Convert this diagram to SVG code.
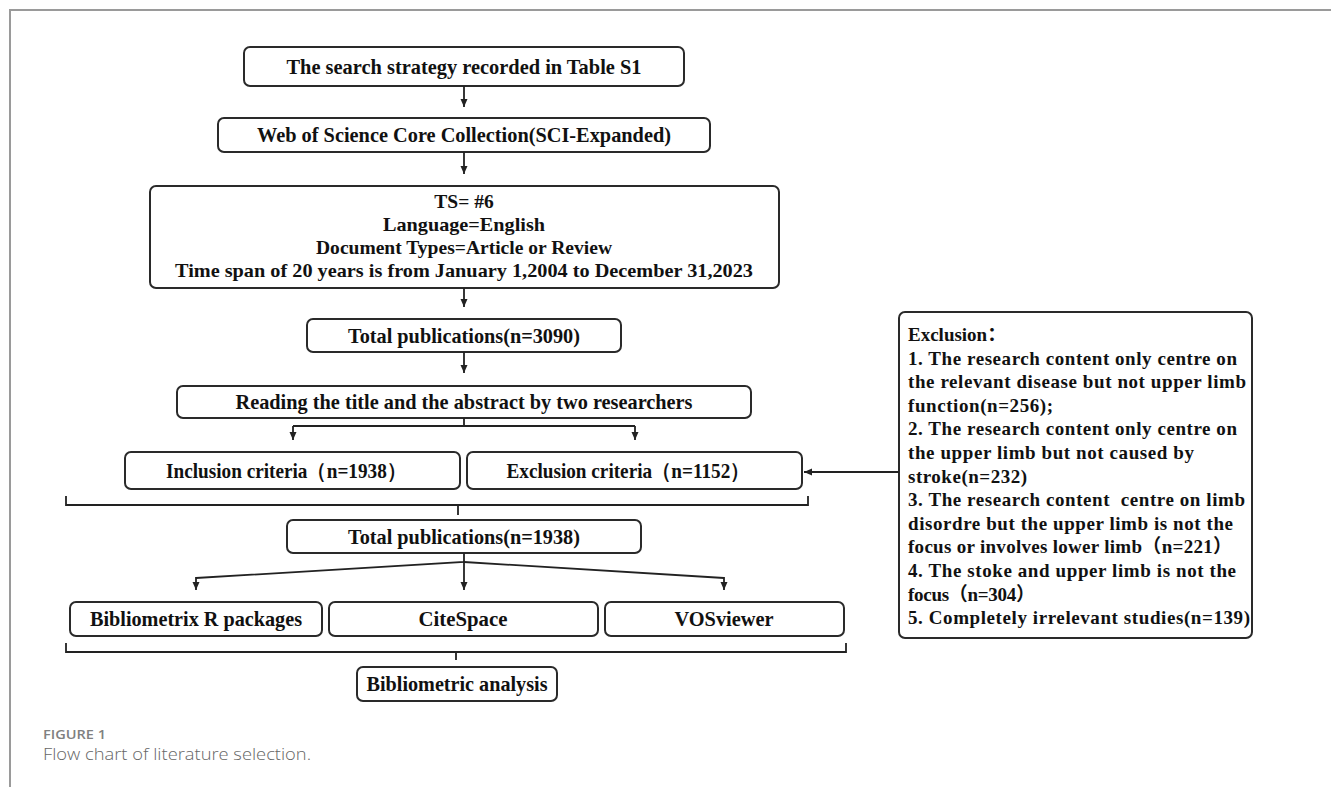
<svg xmlns="http://www.w3.org/2000/svg" width="1331" height="787" viewBox="0 0 1331 787">
<defs>
<style>
.box{fill:#fff;stroke:#2a2a2a;stroke-width:2}
.t{font-family:"Liberation Serif","Times New Roman",serif;font-weight:bold;font-size:21px;fill:#111;text-anchor:middle}
.t2{font-family:"Liberation Serif","Times New Roman",serif;font-weight:bold;font-size:19.5px;fill:#111;text-anchor:middle}
.ex{font-family:"Liberation Serif","Times New Roman","Noto Sans CJK SC",serif;font-weight:bold;font-size:19px;fill:#111}
.ln{fill:none;stroke:#222;stroke-width:1.8}
.frame{fill:none;stroke:#9a9a9a;stroke-width:2}
</style>
<marker id="ah" markerUnits="userSpaceOnUse" markerWidth="9" markerHeight="8" refX="8" refY="4" orient="auto">
<path d="M0,0.5 L8,4 L0,7.5 z" fill="#222"/>
</marker>
</defs>
<rect width="1331" height="787" fill="#fff"/>
<path class="frame" d="M10,787 V10 H1331"/>

<g id="n1"><rect class="box" x="244" y="47" width="440" height="39" rx="6"/><text class="t" x="464" y="74" textLength="355" lengthAdjust="spacingAndGlyphs">The search strategy recorded in Table S1</text></g>
<g id="n2"><rect class="box" x="218" y="118" width="492" height="34" rx="6"/><text class="t" x="464" y="142" textLength="414" lengthAdjust="spacingAndGlyphs">Web of Science Core Collection(SCI-Expanded)</text></g>
<g id="n3"><rect class="box" x="150" y="186" width="629" height="102" rx="6"/>
<text class="t2" x="464" y="208">TS= #6</text>
<text class="t2" x="464" y="231" textLength="162" lengthAdjust="spacingAndGlyphs">Language=English</text>
<text class="t2" x="464" y="254" textLength="296" lengthAdjust="spacingAndGlyphs">Document Types=Article or Review</text>
<text class="t2" x="464" y="277" textLength="578" lengthAdjust="spacingAndGlyphs">Time span of 20 years is from January 1,2004 to December 31,2023</text></g>
<g id="n4"><rect class="box" x="307" y="319" width="314" height="33" rx="6"/><text class="t" x="464" y="343" textLength="232" lengthAdjust="spacingAndGlyphs">Total publications(n=3090)</text></g>
<g id="n5"><rect class="box" x="177" y="386" width="574" height="32" rx="6"/><text class="t" x="464" y="409" textLength="457" lengthAdjust="spacingAndGlyphs">Reading the title and the abstract by two researchers</text></g>
<g id="n6"><rect class="box" x="125" y="452" width="335" height="37" rx="6"/><text class="t" x="286" y="478" textLength="240" lengthAdjust="spacingAndGlyphs">Inclusion criteria（n=1938）</text></g>
<g id="n7"><rect class="box" x="467" y="452" width="335" height="37" rx="6"/><text class="t" x="628" y="478" textLength="243" lengthAdjust="spacingAndGlyphs">Exclusion criteria（n=1152）</text></g>
<g id="n8"><rect class="box" x="287" y="520" width="354" height="33" rx="6"/><text class="t" x="464" y="544" textLength="232" lengthAdjust="spacingAndGlyphs">Total publications(n=1938)</text></g>
<g id="n9"><rect class="box" x="70" y="602" width="252" height="34" rx="6"/><text class="t" x="196" y="626" textLength="212" lengthAdjust="spacingAndGlyphs">Bibliometrix R packages</text></g>
<g id="n10"><rect class="box" x="329" y="602" width="269" height="34" rx="6"/><text class="t" x="463" y="626" textLength="89" lengthAdjust="spacingAndGlyphs">CiteSpace</text></g>
<g id="n11"><rect class="box" x="605" y="602" width="239" height="34" rx="6"/><text class="t" x="724" y="626" textLength="99" lengthAdjust="spacingAndGlyphs">VOSviewer</text></g>
<g id="n12"><rect class="box" x="357" y="667" width="200" height="34" rx="6"/><text class="t" x="457" y="691" textLength="181" lengthAdjust="spacingAndGlyphs">Bibliometric analysis</text></g>

<g id="n13"><rect class="box" x="899" y="312" width="353" height="326" rx="6"/>
<text class="ex" x="908" y="341">Exclusion：</text>
<text class="ex" x="908" y="364.6" textLength="329">1. The research content only centre on</text>
<text class="ex" x="908" y="388.2" textLength="338">the relevant disease but not upper limb</text>
<text class="ex" x="908" y="411.8" textLength="145">function(n=256);</text>
<text class="ex" x="908" y="435.4" textLength="329">2. The research content only centre on</text>
<text class="ex" x="908" y="459" textLength="286">the upper limb but not caused by</text>
<text class="ex" x="908" y="482.6" textLength="119">stroke(n=232)</text>
<text class="ex" x="908" y="506.2" textLength="337" xml:space="preserve">3. The research content  centre on limb</text>
<text class="ex" x="908" y="529.8" textLength="325">disordre but the upper limb is not the</text>
<text class="ex" x="908" y="553.4" textLength="324">focus or involves lower limb（n=221）</text>
<text class="ex" x="908" y="577" textLength="328">4. The stoke and upper limb is not the</text>
<text class="ex" x="908" y="600.6" textLength="127">focus（n=304）</text>
<text class="ex" x="908" y="624.2" textLength="342">5. Completely irrelevant studies(n=139)</text>
</g>

<g id="connectors">
<path class="ln" d="M464,86 V107" marker-end="url(#ah)"/>
<path class="ln" d="M464,152 V174" marker-end="url(#ah)"/>
<path class="ln" d="M464,288 V307" marker-end="url(#ah)"/>
<path class="ln" d="M464,352 V373" marker-end="url(#ah)"/>
<path class="ln" d="M464,418 V426 M293,426 H635"/>
<path class="ln" d="M293,426 V440" marker-end="url(#ah)"/>
<path class="ln" d="M635,426 V440" marker-end="url(#ah)"/>
<path class="ln" d="M899,472 H804" marker-end="url(#ah)"/>
<path class="ln" d="M66,496 V505 H808 V496 M458,505 V515"/>
<path class="ln" d="M464,553 V562 L196,578"/>
<path class="ln" d="M196,577 V590" marker-end="url(#ah)"/>
<path class="ln" d="M464,562 V590" marker-end="url(#ah)"/>
<path class="ln" d="M464,562 L724,578"/>
<path class="ln" d="M724,577 V590" marker-end="url(#ah)"/>
<path class="ln" d="M66,643 V652 H846 V643 M456,652 V660"/>
</g>

<g id="caption">
<text x="43" y="739" font-family="'Open Sans',sans-serif" font-size="13" font-weight="600" fill="#808080" textLength="63" lengthAdjust="spacingAndGlyphs">FIGURE 1</text>
<text x="43" y="760" font-family="'Open Sans',sans-serif" font-size="16" font-weight="300" fill="#666" textLength="268" lengthAdjust="spacingAndGlyphs">Flow chart of literature selection.</text>
</g>
</svg>
